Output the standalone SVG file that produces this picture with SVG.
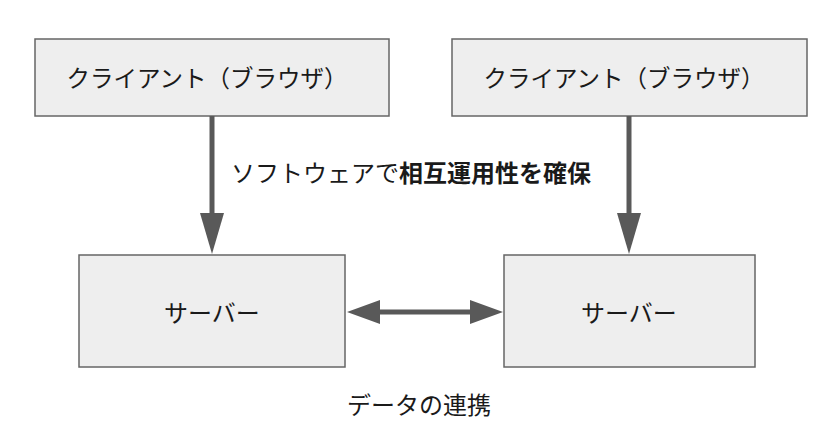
<svg xmlns="http://www.w3.org/2000/svg" width="832" height="446" viewBox="0 0 832 446">
<style>
.box{fill:#eeeeee;stroke:#666666;stroke-width:1.5}
.t{font-family:"Noto Sans CJK JP","Noto Sans",sans-serif;font-size:24px;fill:#1a1a1a;text-anchor:middle;dominant-baseline:central}
.c{font-size:23.5px}
.b{font-weight:bold}
.ln{stroke:#595959;stroke-width:5;fill:none}
.hd{fill:#595959}
</style>
<rect width="832" height="446" fill="#ffffff"/>
<g id="client1"><rect class="box" x="35" y="39" width="354" height="77"/><text class="t c" x="207" y="77">クライアント（ブラウザ）</text></g>
<g id="client2"><rect class="box" x="452" y="39" width="355" height="77"/><text class="t c" x="624" y="77">クライアント（ブラウザ）</text></g>
<g id="server1"><rect class="box" x="79" y="255" width="266" height="112"/><text class="t" x="212" y="311">サーバー</text></g>
<g id="server2"><rect class="box" x="504" y="255" width="251" height="112"/><text class="t" x="629" y="311">サーバー</text></g>
<g id="connectors">
<line class="ln" x1="212" y1="116" x2="212" y2="215"/>
<polygon class="hd" points="200,213 224,213 212,254"/>
<line class="ln" x1="629" y1="116" x2="629" y2="215"/>
<polygon class="hd" points="617,213 641,213 629,254"/>
<line class="ln" x1="378" y1="312" x2="472" y2="312"/>
<polygon class="hd" points="347,312 380,300 380,324"/>
<polygon class="hd" points="503,312 470,300 470,324"/>
</g>
<text class="t" x="411" y="171">ソフトウェアで<tspan class="b">相互運用性を確保</tspan></text>
<text class="t" x="419" y="403">データの連携</text>
</svg>
